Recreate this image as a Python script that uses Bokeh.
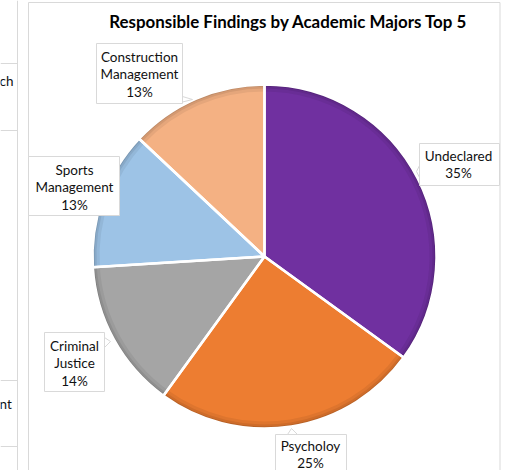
import math
from bokeh.plotting import figure
from bokeh.models import Range1d
from bokeh.core.properties import value
from bokeh.embed import file_html
from bokeh.resources import INLINE

# ---- data ----
categories = ["Undeclared", "Psycholoy", "Criminal\nJustice", "Sports\nManagement", "Construction\nManagement"]
shares = [35, 25, 14, 13, 13]
colors = ["#7030A0", "#ED7D31", "#A5A5A5", "#9DC3E6", "#F4B183"]
title = "Responsible Findings by Academic Majors Top 5"

# ---- layout (pixel coordinates, y downward) ----
W, H = 509, 470
CX, CY, R = 264, 256, 172
# label boxes: x0, x1, y0, y1, text centre x, text centre y
boxes = [
    (419, 499, 143, 185, 458, 164),
    (275, 346, 434, 490, 310, 454),
    (44, 104, 332, 391, 74, 363),
    (28, 119, 156, 215, 74, 187),
    (96, 182, 43, 103, 139, 74),
]
pointers = [
    [(419, 165), (416, 171), (419, 177)],
    [(287, 434), (291, 428), (297, 434)],
    [(104, 337), (110, 341), (104, 347)],
    [(176, 103), (192, 99), (182, 96)],
    None,
]

def Y(y):
    return H - y

p = figure(width=W, height=H, output_backend="svg", toolbar_location=None,
           x_range=Range1d(0, W), y_range=Range1d(0, H), min_border=0)
p.axis.visible = False
p.grid.visible = False
p.outline_line_color = None
p.background_fill_color = "white"
p.border_fill_color = "white"

FONT = "Lato"
GRID = "#D9D9D9"
TXT = "#111111"

# neighbouring sheet fragment on the left
p.segment(x0=[17], y0=[Y(0)], x1=[17], y1=[Y(470)], line_color=GRID, line_width=1)
for yy in [63, 130, 380, 446]:
    p.segment(x0=[0], y0=[Y(yy)], x1=[17], y1=[Y(yy)], line_color=GRID, line_width=1)
p.text(x=[-1, -1], y=[Y(80), Y(403)], text=["ch", "nt"], text_font=value(FONT),
       text_font_size="13.5px", text_baseline="middle", text_align="left", text_color=TXT)

# chart border
p.quad(left=[28], right=[499.5], top=[Y(2)], bottom=[Y(480)], fill_color="white",
       line_color=GRID, line_width=1)

# title
p.text(x=[288], y=[Y(21)], text=[title], text_font=value(FONT), text_font_style="bold",
       text_font_size="16.9px", text_align="center", text_baseline="middle", text_color="#000000")

# pie wedges (clockwise from 12 o'clock)
total = float(sum(shares))
starts, ends = [], []
cum = 0.0
for s in shares:
    a0 = math.pi / 2 - 2 * math.pi * (cum + s) / total
    a1 = math.pi / 2 - 2 * math.pi * cum / total
    starts.append(a0)
    ends.append(a1)
    cum += s

def darker(hexc, f):
    r, g, b = int(hexc[1:3], 16), int(hexc[3:5], 16), int(hexc[5:7], 16)
    return "#%02x%02x%02x" % (int(r * f), int(g * f), int(b * f))

p.wedge(x=CX, y=Y(CY), radius=R, start_angle=starts, end_angle=ends,
        fill_color=colors, line_color=None)
# bevel rim
for inner, f in [(R - 7, 0.94), (R - 4, 0.87), (R - 2, 0.78)]:
    p.annular_wedge(x=CX, y=Y(CY), inner_radius=inner, outer_radius=R,
                    start_angle=starts, end_angle=ends,
                    fill_color=[darker(c, f) for c in colors], line_color=None)
# separators
p.wedge(x=CX, y=Y(CY), radius=R, start_angle=starts, end_angle=ends,
        fill_color=None, line_color="white", line_width=2.5)

# labels
labels = [f"{c}\n{s}%" for c, s in zip(categories, shares)]
for (x0, x1, y0, y1, tx, ty), lab, ptr in zip(boxes, labels, pointers):
    p.quad(left=[x0], right=[x1], top=[Y(y0)], bottom=[Y(y1)], fill_color="white",
           line_color=GRID, line_width=1)
    if ptr:
        p.patch(x=[q[0] for q in ptr], y=[Y(q[1]) for q in ptr], fill_color="white",
                line_color=GRID, line_width=1)
    p.text(x=[tx], y=[Y(ty)], text=[lab], text_font=value(FONT), text_font_size="13.5px",
           text_align="center", text_baseline="middle", text_line_height=1.1,
           text_color=TXT)

open("out.html", "w").write(file_html(p, INLINE))
